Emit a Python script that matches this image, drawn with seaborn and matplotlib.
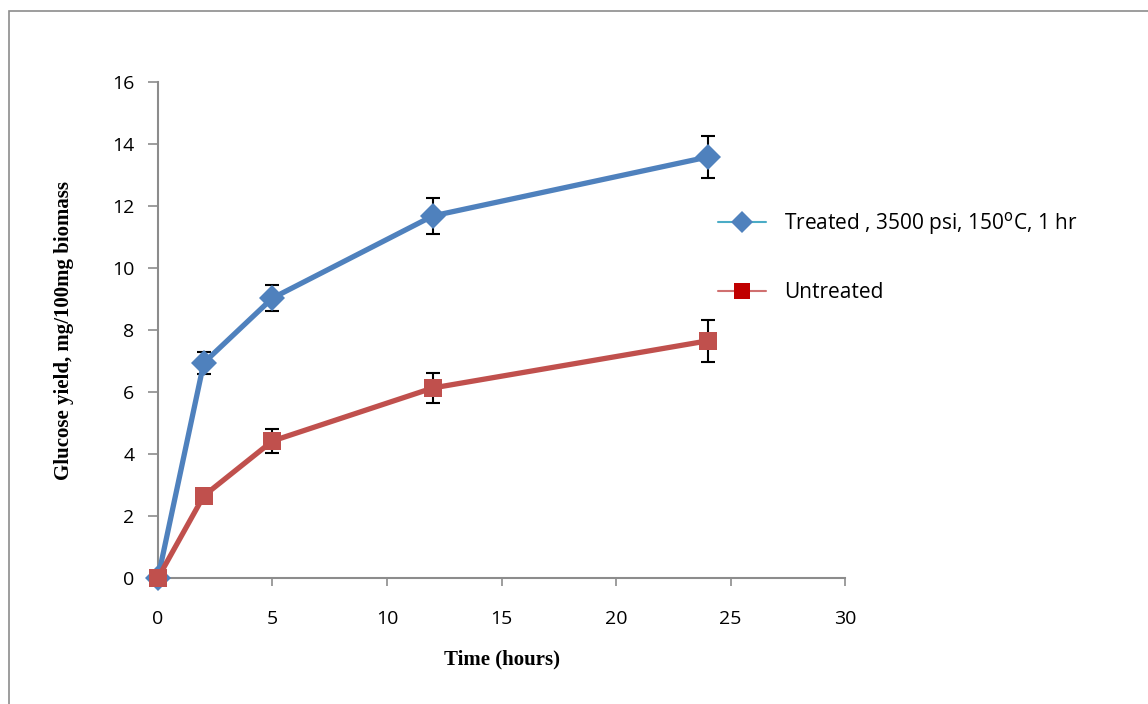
import pandas as pd
import matplotlib.pyplot as plt
import seaborn as sns
from matplotlib.lines import Line2D
from matplotlib.patches import Rectangle

# ── Data ──────────────────────────────────────────────
hours = [0, 2, 5, 12, 24]
treated = [0.0, 6.94, 9.03, 11.68, 13.58]
treated_err = [0.0, 0.35, 0.43, 0.58, 0.68]
untreated = [0.0, 2.65, 4.42, 6.13, 7.65]
untreated_err = [0.0, 0.10, 0.39, 0.48, 0.68]

label_t = 'Treated , 3500 psi, 150$^{\\mathrm{o}}$C, 1 hr'
label_u = 'Untreated'

df = pd.DataFrame({
    'Time': hours * 2,
    'Yield': treated + untreated,
    'Err': treated_err + untreated_err,
    'Group': [label_t] * len(hours) + [label_u] * len(hours),
})

sns.set_style('white')
plt.rcParams['font.family'] = ['Open Sans', 'DejaVu Sans']
plt.rcParams['text.color'] = 'black'
plt.rcParams['axes.labelcolor'] = 'black'

fig = plt.figure(figsize=(11.48, 7.04), dpi=100)
ax = fig.add_axes([0.1376, 0.179, 0.5985, 0.7045])

# outer chart-area frame
fig.patches.append(Rectangle((9 / 1148, -0.5), 2.0, 0.5 + (1 - 11 / 704),
                             transform=fig.transFigure, fill=False,
                             edgecolor='#8c8c8c', linewidth=1.2))

colors = {label_t: '#4F81BD', label_u: '#C0504D'}
sns.lineplot(data=df, x='Time', y='Yield', hue='Group', style='Group',
             palette=colors, markers={label_t: 'D', label_u: 's'}, dashes=False,
             linewidth=3.8, markersize=13.5, markeredgewidth=0, ax=ax, legend=False,
             zorder=3)

for g, sub in df.groupby('Group'):
    ax.errorbar(sub['Time'], sub['Yield'], yerr=sub['Err'], fmt='none',
                ecolor='black', elinewidth=1.5, capsize=5, capthick=1.5, zorder=2)

ax.set_xlim(0, 30)
ax.set_ylim(0, 16)
ax.set_xticks(range(0, 31, 5))
ax.set_yticks(range(0, 17, 2))
ax.tick_params(axis='both', direction='out', width=1.2, color='#8c8c8c',
               labelsize=14, labelcolor='black', bottom=True, left=True)
ax.tick_params(axis='x', length=6, pad=17)
ax.tick_params(axis='y', length=7, pad=10)
for s in ['top', 'right']:
    ax.spines[s].set_visible(False)
for s in ['left', 'bottom']:
    ax.spines[s].set_color('#8c8c8c')
    ax.spines[s].set_linewidth(1.5)
for ln in ax.lines:
    ln.set_clip_on(False)

ax.set_xlabel('Time (hours)', fontfamily='Liberation Serif', fontweight='bold',
              fontsize=15)
ax.set_ylabel('Glucose yield, mg/100mg biomass', fontfamily='Liberation Serif',
              fontweight='bold', fontsize=15)
ax.xaxis.set_label_coords(0.5, -0.145)
ax.yaxis.set_label_coords(-0.122, 0.5)

handles = [
    Line2D([], [], color='#4BACC6', lw=1.5, marker='D', markersize=11,
           markerfacecolor='#4F81BD', markeredgewidth=0),
    Line2D([], [], color='#D07070', lw=1.5, marker='s', markersize=11,
           markerfacecolor='#C00000', markeredgewidth=0),
]
fig.legend(handles, [label_t, label_u], loc='upper left',
           bbox_to_anchor=(0.616, 0.716), frameon=False, fontsize=15,
           borderpad=0, handlelength=2.3, labelspacing=2.15, handletextpad=0.87)

plt.savefig('out.png', dpi=100)
